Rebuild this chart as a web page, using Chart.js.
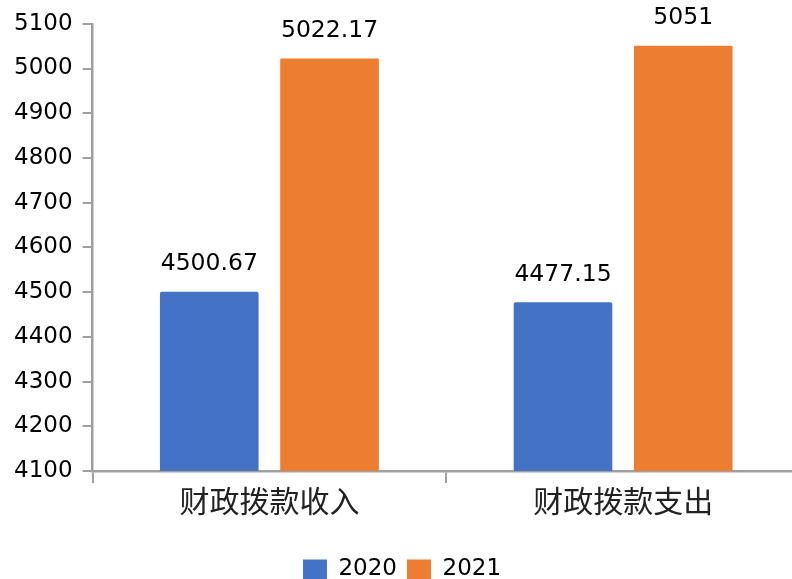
<!DOCTYPE html>
<html>
<head>
<meta charset="utf-8">
<script src="https://cdn.jsdelivr.net/npm/chart.js@4/dist/chart.umd.min.js"></script>
<style>
  html, body { margin: 0; padding: 0; background: #fff; overflow: hidden; }
  #wrap { width: 800px; height: 579px; }
</style>
</head>
<body>
<div id="wrap"><canvas id="fundChart"></canvas></div>
<script>
// 类别与数值
const categories = ["财政拨款收入", "财政拨款支出"];
const values2020 = [4500.67, 4477.15];
const values2021 = [5022.17, 5051];
const seriesNames = ["2020", "2021"];

const axisGrey = "#a0a0a0";
const numFont = "'DejaVu Sans', sans-serif";

// 柱顶数值标签
const valueLabels = {
    id: "valueLabels",
    afterDatasetsDraw(chart) {
        const ctx = chart.ctx;
        ctx.save();
        ctx.font = "23.5px " + numFont;
        ctx.fillStyle = "#000";
        ctx.textAlign = "center";
        ctx.textBaseline = "bottom";
        chart.data.datasets.forEach((ds, i) => {
            chart.getDatasetMeta(i).data.forEach((bar, j) => {
                ctx.fillText(String(ds.data[j]), bar.x, bar.y - 16);
            });
        });
        ctx.restore();
    }
};

new Chart(document.getElementById("fundChart"), {
    type: "bar",
    data: {
        labels: categories,
        datasets: [
            { label: seriesNames[0], data: values2020, backgroundColor: "#4472C4", borderRadius: 2 },
            { label: seriesNames[1], data: values2021, backgroundColor: "#ED7D31", borderRadius: 1 }
        ]
    },
    options: {
        responsive: true,
        maintainAspectRatio: false,
        animation: false,
        categoryPercentage: 0.68,
        barPercentage: 0.82,
        layout: { padding: { left: 4, right: 0, top: 17, bottom: -12 } },
        plugins: {
            tooltip: { enabled: false },
            legend: {
                position: "bottom",
                labels: {
                    font: { family: numFont, size: 23 },
                    color: "#000",
                    boxWidth: 24,
                    boxHeight: 20,
                    padding: 10
                }
            }
        },
        scales: {
            x: {
                grid: { offset: true, drawOnChartArea: false, color: axisGrey, lineWidth: 2, tickLength: 12 },
                border: { color: axisGrey, width: 2.5 },
                ticks: {
                    font: { family: "'Noto Sans CJK SC', sans-serif", size: 30 },
                    color: "#222",
                    padding: 0
                },
                afterFit(scale) { scale.height += 29; }
            },
            y: {
                min: 4100,
                max: 5100,
                grid: { drawOnChartArea: false, color: axisGrey, lineWidth: 2, tickLength: 10 },
                border: { color: axisGrey, width: 2.5 },
                ticks: {
                    stepSize: 100,
                    font: { family: numFont, size: 23 },
                    color: "#000",
                    padding: 10,
                    callback: v => String(v)
                }
            }
        }
    },
    plugins: [valueLabels]
});
</script>
</body>
</html>
